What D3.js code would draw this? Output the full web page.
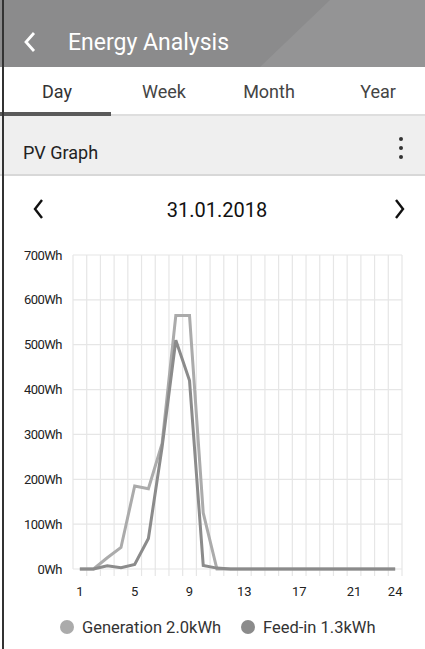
<!DOCTYPE html>
<head>
  <meta charset="utf-8">
  <script src="https://d3js.org/d3.v7.min.js"></script>
  <style>
  body,html {background:white;font-family:Roboto, sans-serif; margin:0; width:425px; height:649px; overflow:hidden;}
  svg {display:block;}
  .ylab {font-size:13px; fill:#222; letter-spacing:-0.5px;}
  .xlab {font-size:13px; fill:#222;}
  </style>
</head>
<body>
<svg></svg>
<script>

  const W = 425, H = 649;

  // data (Wh per hour)
  const hours = d3.range(1, 25);
  const generation = [0, 0, 25, 48, 185, 179, 280, 565, 565, 125, 0, 0, 0, 0, 0, 0, 0, 0, 0, 0, 0, 0, 0, 0];
  const feedIn = [0, 0, 7, 3, 10, 68, 272, 510, 420, 8, 2, 0, 0, 0, 0, 0, 0, 0, 0, 0, 0, 0, 0, 0];
  const yTicks = [0, 100, 200, 300, 400, 500, 600, 700];
  const xLabels = [1, 5, 9, 13, 17, 21, 24];
  const tabs = ["Day", "Week", "Month", "Year"];
  const legendItems = [
    {name: "Generation 2.0kWh", color: "#ababab"},
    {name: "Feed-in 1.3kWh", color: "#8b8b8b"}
  ];

  const svg = d3.select("svg").attr("width", W).attr("height", H);

  // HEADER
  svg.append("rect").attr("x", 0).attr("y", 0).attr("width", W).attr("height", 67).attr("fill", "#8b8b8c");
  svg.append("path").attr("d", "M330,0 L425,0 L425,67 L260,67 Z").attr("fill", "#949495");
  svg.append("path").attr("d", "M34,33 L26,42 L34,51").attr("fill", "none").attr("stroke", "white").attr("stroke-width", 2.8);
  svg.append("text").attr("x", 68).attr("y", 50).attr("fill", "white").style("font-size", "23px").text("Energy Analysis");

  // TABS
  const tabPos = {Day: 57, Week: 164, Month: 269, Year: 378};
  svg.selectAll(".tab").data(tabs).enter().append("text")
    .attr("class", "tab")
    .attr("x", d => tabPos[d])
    .attr("y", 98)
    .attr("text-anchor", "middle")
    .attr("fill", d => d == "Day" ? "#333" : "#444")
    .style("font-size", "18px")
    .text(d => d);
  svg.append("rect").attr("x", 111).attr("y", 114).attr("width", W - 111).attr("height", 2).attr("fill", "#dedede");
  svg.append("rect").attr("x", 0).attr("y", 112).attr("width", 111).attr("height", 4).attr("fill", "#5a5a5a");

  // PV GRAPH bar
  svg.append("rect").attr("x", 0).attr("y", 116).attr("width", W).attr("height", 59).attr("fill", "#efefef");
  svg.append("rect").attr("x", 0).attr("y", 174).attr("width", W).attr("height", 2).attr("fill", "#d8d8d8");
  svg.append("text").attr("x", 23).attr("y", 159).attr("fill", "#222").style("font-size", "18px").text("PV Graph");
  svg.selectAll(".dot").data([139, 148, 157]).enter().append("circle")
    .attr("cx", 401).attr("cy", d => d).attr("r", 2).attr("fill", "#333");

  // DATE row
  svg.append("text").attr("x", 217).attr("y", 217).attr("text-anchor", "middle").attr("fill", "#111").style("font-size", "20px").text("31.01.2018");
  svg.append("path").attr("d", "M42,200 L35,209 L42,218").attr("fill", "none").attr("stroke", "#111").attr("stroke-width", 2.4);
  svg.append("path").attr("d", "M396,200 L403,209 L396,218").attr("fill", "none").attr("stroke", "#111").attr("stroke-width", 2.4);

  // CHART
  const pLeft = 73, pRight = 402, pTop = 255, pBottom = 569;
  const x = d3.scaleBand().domain(hours).range([pLeft, pRight]);
  const y = d3.scaleLinear().domain([0, 700]).range([pBottom, pTop]);
  const grid = svg.append("g");

  grid.selectAll(".hg").data(yTicks).enter().append("line")
    .attr("x1", pLeft).attr("x2", pRight)
    .attr("y1", d => y(d)).attr("y2", d => y(d))
    .attr("stroke", "#e6e6e6").attr("stroke-width", 1.2);

  const edges = hours.map(h => x(h)).concat([pRight]);
  grid.selectAll(".vg").data(edges).enter().append("line")
    .attr("x1", d => d).attr("x2", d => d)
    .attr("y1", pTop).attr("y2", (d, i) => i == 0 ? pBottom : pBottom + 7)
    .attr("stroke", "#e6e6e6").attr("stroke-width", 1.2);

  svg.selectAll(".ylab").data(yTicks).enter().append("text")
    .attr("class", "ylab")
    .attr("x", 62).attr("y", d => y(d) + 4.5)
    .attr("text-anchor", "end")
    .text(d => d + "Wh");

  svg.selectAll(".xlab").data(xLabels).enter().append("text")
    .attr("class", "xlab")
    .attr("x", d => x(d) + x.bandwidth() / 2)
    .attr("y", 596)
    .attr("text-anchor", "middle")
    .text(d => d);

  const line = d3.line()
    .x((d, i) => x(hours[i]) + x.bandwidth() / 2)
    .y(d => y(d));

  svg.append("path").datum(generation).attr("d", line)
    .attr("fill", "none").attr("stroke", legendItems[0].color).attr("stroke-width", 3).attr("stroke-linejoin", "miter");
  svg.append("path").datum(feedIn).attr("d", line)
    .attr("fill", "none").attr("stroke", legendItems[1].color).attr("stroke-width", 3).attr("stroke-linejoin", "miter");

  // LEGEND
  const leg = svg.selectAll(".leg").data(legendItems).enter().append("g")
    .attr("transform", (d, i) => `translate(${i ? 248 : 67},627)`);
  leg.append("circle").attr("r", 7).attr("fill", d => d.color);
  leg.append("text").attr("x", 15).attr("y", 5.5).attr("fill", "#333").style("font-size", "16.5px").text(d => d.name);

  // left frame edge
  svg.append("rect").attr("x", 2).attr("y", 0).attr("width", 2).attr("height", H).attr("fill", "#333");

</script>
</body>
